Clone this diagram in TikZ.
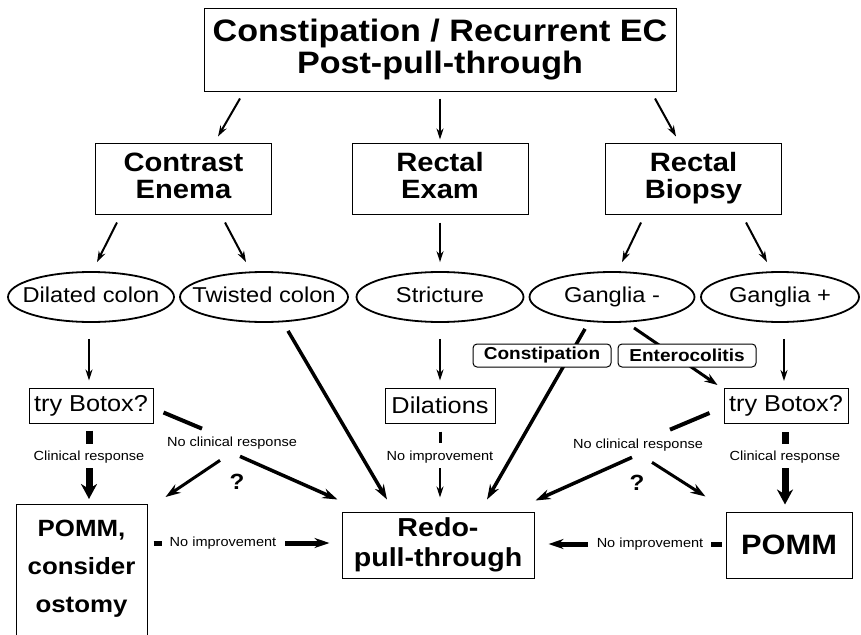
\documentclass[tikz,border=0pt]{standalone}
\usepackage{fontspec}
\setmainfont{Liberation Sans}[FakeStretch=1.1]
\usetikzlibrary{arrows.meta,shapes.geometric,calc}

\tikzset{
  box/.style={draw, line width=1pt, inner sep=0pt, align=center, fill=white},
  oval/.style={draw, ellipse, line width=1.8pt, inner ysep=0pt, inner xsep=-30pt,
    text height=15.5pt, text depth=4.5pt,
    minimum height=50pt, font=\fontsize{21.5}{24}\selectfont},
  tag/.style={draw, fill=white, rounded corners=4pt, line width=1pt, inner sep=0pt,
    minimum height=23pt, minimum width=138pt, font=\fontsize{17.3}{20}\selectfont\bfseries},
  note/.style={inner sep=1pt, font=\fontsize{13.2}{15}\selectfont},
  qmark/.style={inner sep=0pt, font=\fontsize{22}{24}\selectfont\bfseries},
  thinarrow/.style={line width=2pt, -{Stealth[length=11pt,width=7pt]}},
  midarrow/.style={line width=3.5pt, -{Stealth[length=15pt,width=10pt]}},
  bigarrow/.style={line width=7pt, -{Stealth[length=15pt,width=16pt]}},
  stub/.style={line width=#1},
  stub/.default=6pt
}

\begin{document}
\begin{tikzpicture}[x=1pt,y=-1pt]
\useasboundingbox (0,0) rectangle (861,634);

% --- boxes and ovals --------------------------------------------------
\node[box, minimum width=472pt, minimum height=82pt,
      font=\fontsize{31}{32}\selectfont\bfseries] (top) at (440,50)
      {Constipation / Recurrent EC\\Post-pull-through};

\begin{scope}[every node/.append style={box, minimum width=176pt, minimum height=71pt,
      font=\fontsize{26.5}{27}\selectfont\bfseries}]
  \node (ce) at (183.5,178.5) {Contrast\\Enema\vphantom{y}};
  \node (re) at (440,178.5)   {Rectal\\Exam\vphantom{y}};
  \node (rb) at (693.5,178.5) {Rectal\\Biopsy};
\end{scope}

\node[oval, minimum width=166pt] (dc) at (91,297)  {Dilated colon};
\node[oval, minimum width=168pt] (tc) at (264,297) {Twisted colon};
\node[oval, minimum width=167pt] (st) at (440,297) {Stricture};
\node[oval, minimum width=165pt] (gm) at (612,297) {Ganglia -};
\node[oval, minimum width=158pt] (gp) at (780,297) {Ganglia +};

\begin{scope}[every node/.append style={box, minimum height=35pt,
      font=\fontsize{23}{25}\selectfont}]
  \node[minimum width=124pt] (bl)  at (91,405.5)  {try Botox?};
  \node[minimum width=110pt] (dil) at (440,405.5) {Dilations};
  \node[minimum width=124pt] (br)  at (786,406)   {try Botox?};
\end{scope}

\node[box, minimum width=131pt, minimum height=160pt, anchor=north] (pl) at (81.5,504) {};
\node[inner sep=0pt, anchor=north, align=center,
      font=\fontsize{23.5}{38}\selectfont\bfseries] (plt) at (81.5,520)
      {POMM,\\consider\\ostomy};
\node[box, minimum width=192pt, minimum height=66pt,
      font=\fontsize{26}{30}\selectfont\bfseries] (redo) at (438,545) {Redo-\\pull-through};
\node[box, minimum width=126pt, minimum height=66pt,
      font=\fontsize{28}{30}\selectfont\bfseries] (pr) at (789,545) {POMM};

% --- labels along connectors -------------------------------------------
\node[note] (crl) at (89,457)  {Clinical response};
\node[note] (ncl) at (232,443) {No clinical response};
\node[note] (nid) at (440,457) {No improvement};
\node[note] (ncr) at (638,445) {No clinical response};
\node[note] (crr) at (785,457) {Clinical response};
\node[note] (nil) at (223,543) {No improvement};
\node[note] (nir) at (650,544) {No improvement};
\node[qmark] (ql) at (237,482) {?};
\node[qmark] (qr) at (637,483) {?};

% --- connectors: first level --------------------------------------------
\draw[thinarrow] ($(top.south)+(-200,7)$) -- ($(ce.north)+(34.5,-6)$);
\draw[thinarrow] ($(top.south)+(0,7)$)    -- ($(re.north)+(0,-3)$);
\draw[thinarrow] ($(top.south)+(215,7)$)  -- ($(rb.north)+(-17.5,-6)$);

\draw[thinarrow] ($(ce.south)+(-66.5,8)$) -- ($(dc.north)+(6,-9)$);
\draw[thinarrow] ($(ce.south)+(41.5,8)$)  -- ($(tc.north)+(-18,-9)$);
\draw[thinarrow] ($(re.south)+(0,8)$)     -- ($(st.north)+(0,-9)$);
\draw[thinarrow] ($(rb.south)+(-52.5,8)$) -- ($(gm.north)+(10,-9)$);
\draw[thinarrow] ($(rb.south)+(52.5,8)$)  -- ($(gp.north)+(-13,-9)$);

\draw[thinarrow] ($(dc.south)+(-2,16)$) -- ($(bl.north)+(-2,-7)$);
\draw[thinarrow] ($(st.south)+(0,16)$)  -- ($(dil.north)+(0,-7)$);
\draw[thinarrow] ($(gp.south)+(4,16)$)  -- ($(br.north)+(-2,-7)$);

% --- long diagonals into the redo node ----------------------------------
\draw[midarrow] ($(tc.south)+(24,8)$) -- ($(redo.north)+(-51,-12)$);
\draw[midarrow] ($(gm.south)+(-27,6)$) -- ($(redo.north)+(49,-12)$);
\draw[line width=3pt, -{Stealth[length=13pt,width=9pt]}]
      ($(gm.south)+(22,5)$) -- ($(br.north west)+(-6,-3)$);

\node[tag] (cons) at (542,355.5) {Constipation};
\node[tag] (ent)  at (687,355.5) {Enterocolitis};

% --- left botox branch ---------------------------------------------------
\draw[stub=7pt] ($(bl.south)+(-2,7)$) -- ($(crl.north)+(0,-6)$);
\draw[bigarrow] ($(crl.south)+(0,4)$) -- ($(pl.north)+(7.5,-5)$);
\draw[stub=4pt] ($(bl.east)+(10,7)$) -- ($(ncl.north)+(-30,-7)$);
\draw[midarrow, line width=3pt] ($(ncl.south)+(-12,10)$) -- ($(pl.north east)+(18,-7)$);
\draw[midarrow] ($(ncl.south)+(8,6)$) -- ($(redo.north west)+(-4,-12)$);

% --- dilations branch ----------------------------------------------------
\draw[stub=3pt] ($(dil.south)+(0,8)$) -- ($(nid.north)+(0,-7)$);
\draw[thinarrow] ($(nid.south)+(0,4)$) -- ($(redo.north)+(2,-14)$);

% --- right botox branch --------------------------------------------------
\draw[stub=4pt] ($(br.west)+(-14,7)$) -- ($(ncr.north)+(32,-8)$);
\draw[midarrow] ($(ncr.south)+(-6,5)$) -- ($(redo.north east)+(1,-11)$);
\draw[midarrow, line width=3pt] ($(ncr.south)+(14,10)$) -- ($(pr.north west)+(-20,-15)$);
\draw[stub=7pt] ($(br.south)+(-1,8)$) -- ($(crr.north)+(0,-6)$);
\draw[bigarrow] ($(crr.south)+(0,4)$) -- ($(pr.north)+(-4,-7)$);

% --- bottom row ----------------------------------------------------------
\draw[stub=5pt] ($(pl.north east)+(6,39)$) -- ($(nil.west)+(-7,0)$);
\draw[midarrow, line width=5pt] ($(nil.east)+(8,0)$) -- ($(redo.west)+(-12,-2)$);
\draw[stub=5pt] ($(pr.west)+(-4,-1)$) -- ($(nir.east)+(7,0)$);
\draw[midarrow, line width=5pt] ($(nir.west)+(-8,0)$) -- ($(redo.east)+(14,-1)$);

\end{tikzpicture}
\end{document}
